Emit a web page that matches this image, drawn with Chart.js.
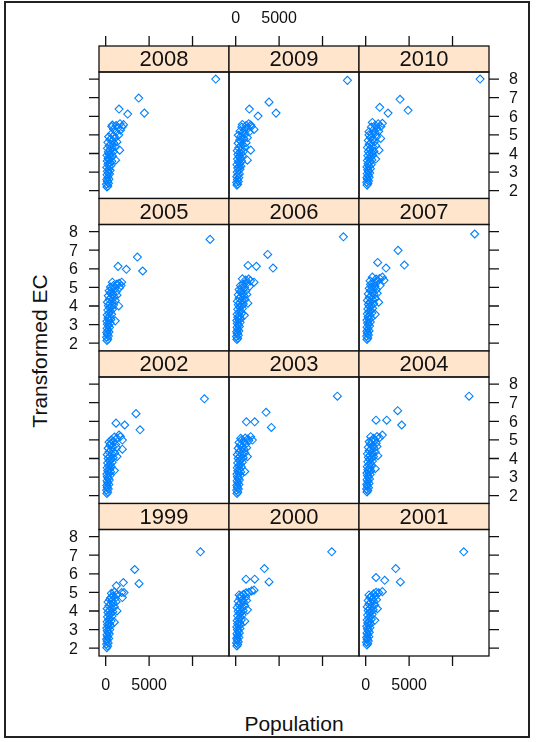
<!DOCTYPE html>
<html lang="en">
<head>
<meta charset="UTF-8">
<title>Transformed EC by Population, 1999-2010</title>
<script src="https://cdn.jsdelivr.net/npm/chart.js"></script>
<style>
  body { margin: 0; background: #fff; }
  #page { position: relative; width: 536px; height: 742px; overflow: hidden; }
  #page canvas { position: absolute; left: 0; top: 0; }
  #frame { position: absolute; left: 4px; top: 1px; width: 522px; height: 733px; border: 2px solid #222; }
  .axis-title { position: absolute; font: 21px "Liberation Sans", Arial, sans-serif; color: #111; white-space: nowrap; }
  #ytitle { left: 40px; top: 351px; transform: translate(-50%, -50%) rotate(-90deg); }
  #xtitle { left: 294px; top: 724px; transform: translate(-50%, -50%); }
</style>
</head>
<body>
<div id="page">
  <div id="frame"></div>
  <div class="axis-title" id="ytitle">Transformed EC</div>
  <div class="axis-title" id="xtitle">Population</div>
</div>
<script>
// [population, transformed EC] for each year
const y1999 = [[130,2.03],[220,2.12],[100,2.22],[290,2.28],[170,2.38],[110,2.48],[350,2.52],[230,2.62],[140,2.72],[410,2.76],[280,2.86],[180,2.94],[470,3.0],[120,3.08],[340,3.14],[550,3.2],[220,3.26],[430,3.34],[160,3.42],[620,3.46],[320,3.52],[1000,3.4],[500,3.6],[210,3.68],[720,3.72],[390,3.8],[590,3.86],[260,3.92],[820,3.96],[1300,4.0],[450,4.04],[170,4.12],[680,4.16],[1000,4.22],[360,4.28],[570,4.36],[870,4.42],[260,4.48],[1200,4.5],[740,4.56],[480,4.62],[576,4.72],[1100,4.68],[1920,4.72],[850,4.8],[2112,4.99],[1843,4.99],[1300,4.9],[1000,5.02],[650,4.95],
  [10906,7.18],[3341,6.23],[3840,5.47],[2035,5.53],[1229,5.35]];
const y2000 = [[140,2.12],[230,2.2],[100,2.28],[300,2.34],[180,2.44],[120,2.54],[360,2.58],[240,2.68],[150,2.78],[420,2.82],[290,2.92],[190,3.0],[490,3.06],[130,3.14],[360,3.2],[570,3.26],[230,3.32],[450,3.4],[170,3.48],[650,3.52],[340,3.58],[1050,3.45],[530,3.66],[220,3.74],[750,3.78],[410,3.86],[620,3.92],[280,3.98],[860,4.02],[1350,4.06],[470,4.1],[180,4.18],[720,4.22],[1050,4.28],[380,4.34],[600,4.42],[900,4.48],[280,4.52],[1250,4.56],[780,4.62],[500,4.68],[576,4.81],[1150,4.74],[400,4.86],[900,4.9],[1843,5.08],[1500,5.0],[2112,5.12],[1200,4.98],
  [11059,7.18],[3302,6.28],[1190,5.71],[2189,5.71],[3840,5.56]];
const y2001 = [[140,2.17],[230,2.24],[100,2.32],[300,2.38],[180,2.48],[120,2.58],[360,2.62],[240,2.72],[150,2.82],[420,2.86],[290,2.96],[190,3.04],[490,3.1],[130,3.18],[360,3.24],[570,3.3],[230,3.36],[450,3.44],[170,3.52],[650,3.56],[340,3.62],[1050,3.5],[530,3.7],[220,3.78],[750,3.82],[410,3.9],[620,3.96],[280,4.02],[860,4.06],[1350,4.12],[470,4.14],[180,4.22],[720,4.26],[1050,4.32],[380,4.38],[600,4.46],[900,4.52],[280,4.56],[1250,4.6],[780,4.66],[500,4.72],[576,4.77],[1150,4.8],[380,4.86],[900,4.92],[1920,5.04],[1500,4.98],[1200,5.0],
  [11290,7.18],[3456,6.28],[1190,5.8],[2189,5.65],[3994,5.56]];
const y2002 = [[140,2.12],[230,2.2],[100,2.3],[300,2.36],[180,2.46],[120,2.56],[360,2.6],[240,2.7],[150,2.8],[420,2.84],[290,2.94],[190,3.02],[490,3.08],[130,3.16],[360,3.22],[570,3.28],[230,3.34],[450,3.42],[170,3.5],[650,3.54],[340,3.6],[1000,3.35],[530,3.68],[220,3.76],[750,3.8],[410,3.88],[620,3.94],[280,4.0],[860,4.04],[1300,4.1],[470,4.12],[180,4.2],[720,4.24],[1050,4.3],[380,4.36],[600,4.44],[1920,4.5],[280,4.55],[1250,4.58],[780,4.64],[500,4.7],[576,4.81],[1150,4.75],[380,4.88],[900,4.92],[1920,4.99],[650,5.0],[1300,5.08],[1536,5.26],[1000,5.15],[1700,5.18],
  [11366,7.21],[3494,6.41],[1190,5.9],[2189,5.8],[3955,5.54]];
const y2003 = [[150,2.12],[240,2.2],[110,2.3],[310,2.36],[190,2.46],[130,2.56],[370,2.6],[250,2.7],[160,2.8],[430,2.84],[300,2.94],[200,3.02],[500,3.08],[140,3.16],[370,3.22],[580,3.28],[240,3.34],[460,3.42],[180,3.5],[660,3.54],[350,3.6],[1050,3.3],[540,3.68],[230,3.76],[760,3.8],[420,3.88],[630,3.94],[290,4.0],[870,4.04],[1350,4.1],[480,4.12],[190,4.2],[730,4.24],[1060,4.3],[390,4.36],[610,4.44],[930,4.5],[290,4.55],[1260,4.58],[790,4.64],[510,4.7],[1160,4.76],[390,4.86],[576,5.08],[910,4.92],[1500,4.96],[1920,4.99],[1728,5.17],[1100,5.1],[1400,5.05],[700,5.0],
  [11712,7.35],[3494,6.48],[1229,5.97],[2189,5.97],[4109,5.67]];
const y2004 = [[150,2.2],[240,2.28],[110,2.36],[320,2.42],[190,2.52],[130,2.62],[380,2.66],[260,2.76],[160,2.86],[440,2.9],[310,3.0],[200,3.08],[510,3.14],[140,3.22],[380,3.28],[590,3.34],[250,3.4],[470,3.48],[180,3.56],[680,3.6],[360,3.66],[1100,3.45],[560,3.74],[240,3.82],[780,3.86],[430,3.94],[650,4.0],[300,4.06],[900,4.1],[1400,4.15],[500,4.18],[200,4.25],[760,4.3],[1100,4.35],[400,4.42],[630,4.5],[960,4.55],[300,4.6],[1300,4.64],[820,4.7],[530,4.76],[1200,4.82],[400,4.9],[700,4.95],[1050,5.0],[576,5.17],[1920,5.26],[1600,5.12],[1300,5.18],[900,5.08],
  [11904,7.35],[3686,6.57],[1190,6.06],[2419,6.06],[4147,5.8]];
const y2005 = [[150,2.15],[240,2.22],[110,2.32],[310,2.38],[190,2.48],[130,2.58],[380,2.6],[260,2.7],[160,2.8],[440,2.85],[310,2.95],[200,3.02],[520,3.08],[140,3.18],[380,3.22],[600,3.28],[250,3.35],[470,3.45],[180,3.52],[680,3.55],[360,3.62],[1100,3.2],[560,3.7],[240,3.78],[780,3.82],[430,3.9],[650,3.96],[300,4.02],[900,4.05],[1500,4.0],[500,4.12],[200,4.2],[760,4.25],[1100,4.3],[400,4.36],[630,4.45],[950,4.5],[300,4.55],[1300,4.58],[820,4.65],[530,4.7],[1200,4.75],[400,4.82],[700,4.9],[1050,4.95],[1600,4.98],[550,5.02],[900,5.1],[1766,5.1],[1300,5.18],[768,5.28],[1843,5.28],[1550,5.22],
  [12019,7.58],[3648,6.63],[1421,6.13],[2381,5.97],[4262,5.88]];
const y2006 = [[140,2.2],[230,2.27],[100,2.36],[300,2.42],[180,2.52],[120,2.62],[370,2.65],[250,2.75],[150,2.85],[430,2.9],[300,2.98],[190,3.06],[510,3.12],[130,3.22],[370,3.26],[590,3.32],[240,3.4],[460,3.48],[170,3.56],[670,3.6],[350,3.66],[1000,3.5],[550,3.74],[230,3.82],[770,3.86],[420,3.94],[640,4.0],[290,4.06],[880,4.1],[1400,4.15],[490,4.18],[190,4.25],[750,4.3],[1080,4.35],[390,4.42],[620,4.5],[930,4.55],[290,4.6],[1280,4.62],[800,4.7],[520,4.76],[1180,4.82],[390,4.88],[690,4.95],[1030,5.0],[1580,5.05],[540,5.1],[880,5.18],[1300,5.22],[768,5.46],[1700,5.35],[2112,5.28],[1150,5.4],[1500,5.45],
  [12403,7.72],[3686,6.77],[1421,6.18],[2381,6.13],[4301,6.04]];
const y2007 = [[150,2.2],[240,2.28],[110,2.38],[320,2.44],[200,2.54],[130,2.64],[390,2.66],[270,2.76],[160,2.86],[450,2.92],[320,3.0],[210,3.08],[530,3.14],[140,3.24],[390,3.28],[620,3.34],[260,3.42],[490,3.5],[180,3.58],[700,3.62],[370,3.68],[1100,3.55],[580,3.76],[250,3.84],[800,3.88],[440,3.96],[670,4.02],[310,4.08],[920,4.12],[1500,4.2],[510,4.22],[200,4.3],[780,4.35],[1120,4.4],[410,4.46],[650,4.54],[970,4.6],[300,4.65],[1330,4.68],[830,4.76],[540,4.82],[1230,4.88],[400,4.95],[720,5.0],[1070,5.06],[1650,5.1],[560,5.16],[920,5.24],[1350,5.3],[768,5.55],[1920,5.55],[2112,5.38],[1200,5.45],[1600,5.48],[500,5.35],
  [12557,7.87],[3725,6.99],[1382,6.34],[2342,6.04],[4454,6.2]];
const y2008 = [[150,2.2],[250,2.25],[100,2.35],[320,2.4],[200,2.5],[120,2.6],[380,2.62],[260,2.72],[150,2.85],[450,2.9],[300,2.95],[200,3.05],[520,3.1],[350,3.15],[130,3.25],[420,3.3],[600,3.35],[250,3.42],[500,3.5],[180,3.6],[700,3.58],[380,3.65],[1150,3.64],[280,3.75],[560,3.8],[800,3.85],[150,3.9],[420,3.95],[650,4.0],[300,4.08],[900,4.1],[1613,4.18],[500,4.2],[200,4.28],[750,4.3],[1100,4.35],[400,4.42],[600,4.5],[950,4.55],[250,4.6],[1300,4.62],[800,4.7],[500,4.75],[1100,4.85],[350,4.9],[900,4.95],[1500,5.0],[650,5.05],[1200,5.15],[1700,5.25],[900,5.3],[1450,5.38],[700,5.45],[1900,5.42],[1200,5.5],[2050,5.55],[768,5.53],[1650,5.6],
  [12672,8.0],[3802,6.98],[1536,6.39],[2534,6.12],[4454,6.17]];
const y2009 = [[140,2.3],[230,2.35],[110,2.45],[300,2.5],[190,2.6],[360,2.7],[130,2.75],[250,2.85],[430,2.9],[170,3.0],[320,3.08],[500,3.15],[230,3.22],[400,3.3],[600,3.32],[150,3.4],[480,3.48],[300,3.55],[680,3.6],[1344,3.64],[200,3.7],[550,3.75],[380,3.82],[780,3.88],[260,3.95],[620,4.0],[450,4.05],[880,4.1],[180,4.15],[1728,4.18],[700,4.22],[350,4.3],[1050,4.35],[550,4.4],[800,4.48],[280,4.55],[1200,4.58],[650,4.65],[450,4.72],[950,4.8],[1350,4.85],[600,4.92],[300,4.98],[1100,5.05],[800,5.12],[1550,5.15],[500,5.2],[1000,5.28],[2112,5.29],[1400,5.35],[700,5.42],[1800,5.45],[1200,5.5],[768,5.56],[1728,5.53],[1500,5.6],
  [12864,7.93],[3840,6.76],[1574,6.39],[2573,6.01],[4646,6.17]];
const y2010 = [[160,2.3],[260,2.38],[120,2.45],[330,2.52],[210,2.6],[140,2.7],[400,2.72],[280,2.82],[180,2.92],[470,2.95],[330,3.05],[220,3.12],[540,3.18],[150,3.28],[400,3.32],[630,3.4],[270,3.45],[500,3.55],[190,3.62],[720,3.65],[380,3.72],[1150,3.7],[580,3.8],[250,3.88],[820,3.9],[450,3.98],[680,4.05],[300,4.1],[950,4.12],[1536,4.18],[520,4.25],[200,4.32],[780,4.38],[1150,4.42],[400,4.5],[650,4.58],[1000,4.62],[300,4.7],[1728,4.81],[850,4.78],[550,4.85],[1250,4.9],[384,5.0],[750,5.05],[1100,5.12],[384,5.17],[1500,5.2],[900,5.28],[1300,5.35],[650,5.42],[1750,5.45],[1100,5.52],[768,5.67],[1920,5.62],[1450,5.6],
  [13171,8.0],[3955,6.91],[1613,6.48],[2573,6.17],[4877,6.32]];

// panel order, top row first
const panelYears = [
  [2008, 2009, 2010],
  [2005, 2006, 2007],
  [2002, 2003, 2004],
  [1999, 2000, 2001]
];
const yTicks = [2, 3, 4, 5, 6, 7, 8];
const xTicks = [0, 5000, 10000];
const xTickLabels = ['0', '5000', ''];

const seriesByYear = {
  1999: y1999, 2000: y2000, 2001: y2001, 2002: y2002, 2003: y2003, 2004: y2004,
  2005: y2005, 2006: y2006, 2007: y2007, 2008: y2008, 2009: y2009, 2010: y2010
};

// page geometry
const W = 536, H = 742;
const PANEL_W = 130, PANEL_H = 126.5, STRIP_H = 26, ROW_STEP = 152.5;
const LEFT0 = 99, STRIP0 = 46;
const TICK = 10;
const FONT = '"Liberation Sans", Arial, sans-serif';

Chart.defaults.font.family = FONT;

// strip, border, ticks and tick labels for one panel
const latticePanel = {
  id: 'latticePanel',
  afterDatasetsDraw(chart, args, opts) {
    const ctx = chart.ctx;
    const { left, right, top, bottom } = chart.chartArea;
    const xs = chart.scales.x, ys = chart.scales.y;
    const nRow = panelYears.length, nCol = panelYears[0].length;
    ctx.save();
    ctx.strokeStyle = '#111';
    ctx.lineWidth = 1.3;

    // strip with year
    ctx.fillStyle = '#ffe5cc';
    ctx.fillRect(left, top - STRIP_H, right - left, STRIP_H);
    ctx.strokeRect(left, top - STRIP_H, right - left, STRIP_H);
    ctx.strokeRect(left, top, right - left, bottom - top);
    ctx.fillStyle = '#111';
    ctx.font = '22px ' + FONT;
    ctx.textAlign = 'center';
    ctx.textBaseline = 'middle';
    ctx.fillText(String(opts.year), (left + right) / 2, top - STRIP_H / 2 + 1);

    ctx.font = '16px ' + FONT;
    ctx.beginPath();
    // y axis, alternating label sides
    if (opts.col === 0 || opts.col === nCol - 1) {
      const onLeft = opts.col === 0;
      const showLabels = onLeft ? (nRow - 1 - opts.row) % 2 === 0 : (nRow - 1 - opts.row) % 2 === 1;
      ctx.textAlign = onLeft ? 'right' : 'left';
      yTicks.forEach(v => {
        const py = ys.getPixelForValue(v);
        if (onLeft) { ctx.moveTo(left - TICK, py); ctx.lineTo(left, py); }
        else { ctx.moveTo(right, py); ctx.lineTo(right + TICK, py); }
        if (showLabels) ctx.fillText(String(v), onLeft ? left - 21 : right + 20, py + 1);
      });
    }
    // x axis on top of the upper row and under the lower row
    ctx.textAlign = 'center';
    if (opts.row === 0) {
      const base = top - STRIP_H;
      xTicks.forEach((v, i) => {
        const px = xs.getPixelForValue(v);
        ctx.moveTo(px, base - TICK); ctx.lineTo(px, base);
        if (opts.col % 2 === 1) ctx.fillText(xTickLabels[i], px, base - 27);
      });
    }
    if (opts.row === nRow - 1) {
      xTicks.forEach((v, i) => {
        const px = xs.getPixelForValue(v);
        ctx.moveTo(px, bottom); ctx.lineTo(px, bottom + TICK);
        if (opts.col % 2 === 0) ctx.fillText(xTickLabels[i], px, bottom + 30);
      });
    }
    ctx.stroke();
    ctx.restore();
  }
};

const page = document.getElementById('page');
panelYears.forEach((rowYears, row) => {
  rowYears.forEach((year, col) => {
    const canvas = document.createElement('canvas');
    canvas.width = W;
    canvas.height = H;
    page.appendChild(canvas);

    const pl = LEFT0 + col * PANEL_W;
    const pt = STRIP0 + row * ROW_STEP + STRIP_H;
    new Chart(canvas, {
      type: 'scatter',
      data: {
        datasets: [{
          label: String(year),
          data: seriesByYear[year].map(p => ({ x: p[0], y: p[1] })),
          pointStyle: 'rectRot',
          pointRadius: 4,
          pointBorderWidth: 1.1,
          pointBorderColor: '#0080ff',
          pointBackgroundColor: 'rgba(0,0,0,0)'
        }]
      },
      options: {
        responsive: false,
        animation: false,
        events: [],
        layout: {
          padding: { left: pl, top: pt, right: W - pl - PANEL_W, bottom: H - pt - PANEL_H }
        },
        scales: {
          x: { type: 'linear', min: -770, max: 14200, display: false },
          y: { type: 'linear', min: 1.58, max: 8.38, display: false }
        },
        plugins: {
          legend: { display: false },
          tooltip: { enabled: false },
          latticePanel: { year: year, row: row, col: col }
        }
      },
      plugins: [latticePanel]
    });
  });
});
</script>
</body>
</html>
